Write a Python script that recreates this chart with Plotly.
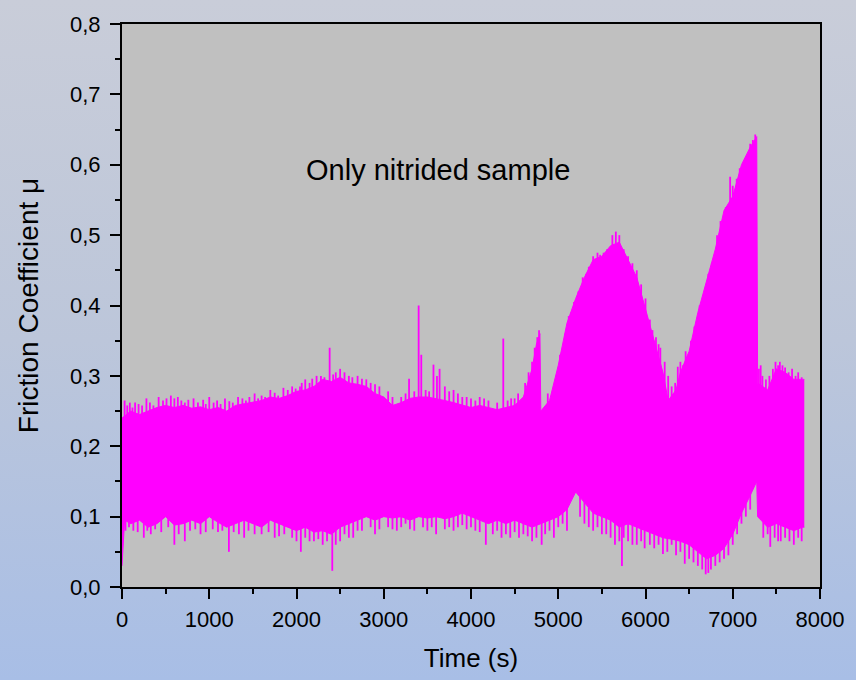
import plotly.graph_objects as go

# ---- data (envelope of the dense friction signal) ----
t_upper = [0, 100, 200, 300, 400, 500, 600, 700, 800, 900, 1000, 1100, 1200, 1300, 1400,
           1500, 1600, 1700, 1800, 1900, 2000, 2100, 2200, 2300, 2400, 2500, 2600, 2700,
           2800, 2900, 3000, 3100, 3200, 3300, 3400, 3500, 3600, 3700, 3800, 3900, 4000,
           4100, 4200, 4300, 4400, 4500, 4600, 4700, 4750, 4790, 4800, 4900, 5000, 5100,
           5200, 5300, 5400, 5500, 5600, 5700, 5800, 5900, 6000, 6100, 6200, 6260, 6350,
           6400, 6500, 6600, 6700, 6800, 6900, 7000, 7100, 7200, 7275, 7285, 7400, 7500,
           7600, 7700, 7800, 7820]
mu_upper = [0.24, 0.25, 0.245, 0.25, 0.255, 0.258, 0.255, 0.258, 0.254, 0.256, 0.252, 0.255,
            0.25, 0.258, 0.26, 0.262, 0.265, 0.27, 0.268, 0.272, 0.278, 0.28, 0.285, 0.295,
            0.292, 0.298, 0.29, 0.288, 0.285, 0.275, 0.27, 0.258, 0.262, 0.268, 0.27, 0.27,
            0.268, 0.265, 0.262, 0.258, 0.255, 0.258, 0.255, 0.252, 0.255, 0.258, 0.27, 0.31,
            0.345, 0.36, 0.25, 0.265, 0.315, 0.375, 0.41, 0.44, 0.465, 0.47, 0.485, 0.49,
            0.465, 0.44, 0.395, 0.35, 0.305, 0.265, 0.28, 0.305, 0.335, 0.39, 0.435, 0.48,
            0.535, 0.555, 0.6, 0.625, 0.64, 0.29, 0.28, 0.31, 0.305, 0.295, 0.295, 0.295]

t_lower = [0, 30, 100, 200, 300, 400, 500, 600, 700, 800, 900, 1000, 1100, 1200, 1300, 1400,
           1500, 1600, 1700, 1800, 1900, 2000, 2100, 2200, 2300, 2400, 2500, 2600, 2700,
           2800, 2900, 3000, 3100, 3200, 3300, 3400, 3500, 3600, 3700, 3800, 3900, 4000,
           4100, 4200, 4300, 4400, 4500, 4600, 4700, 4800, 4900, 5000, 5100, 5200, 5300,
           5400, 5500, 5600, 5700, 5800, 5900, 6000, 6100, 6200, 6300, 6400, 6500, 6600,
           6700, 6800, 6900, 7000, 7100, 7200, 7275, 7285, 7400, 7500, 7600, 7700, 7800, 7820]
mu_lower = [0.03, 0.095, 0.09, 0.095, 0.085, 0.09, 0.1, 0.088, 0.09, 0.095, 0.09, 0.1, 0.092,
            0.085, 0.09, 0.095, 0.09, 0.085, 0.095, 0.09, 0.085, 0.08, 0.085, 0.078, 0.08,
            0.075, 0.085, 0.09, 0.095, 0.1, 0.095, 0.1, 0.098, 0.1, 0.095, 0.1, 0.098, 0.1,
            0.097, 0.1, 0.105, 0.1, 0.095, 0.09, 0.095, 0.09, 0.095, 0.09, 0.085, 0.09, 0.095,
            0.1, 0.11, 0.135, 0.12, 0.105, 0.1, 0.095, 0.085, 0.09, 0.085, 0.08, 0.075, 0.07,
            0.068, 0.065, 0.06, 0.05, 0.04, 0.045, 0.055, 0.075, 0.105, 0.13, 0.15, 0.1,
            0.085, 0.09, 0.085, 0.08, 0.085, 0.085]

# isolated spikes poking above / below the envelope
spike_up_t = [30, 60, 90, 120, 150, 190, 230, 280, 320, 360, 420, 470, 510, 560, 600, 640,
              680, 720, 760, 820, 870, 930, 960, 1000, 1050, 1090, 1130, 1180, 1230, 1270,
              1330, 1380, 1420, 1460, 1520, 1560, 1600, 1640, 1700, 1750, 1790, 1850, 1900,
              1950, 1990, 2040, 2060, 2100, 2150, 2180, 2230, 2280, 2320, 2380, 2420, 2450,
              2500, 2550, 2600, 2640, 2700, 2750, 2800, 2850, 2900, 2950, 3050, 3100, 3200,
              3250, 3290, 3350, 3400, 3430, 3480, 3520, 3570, 3610, 3640, 3700, 3750, 3800,
              3850, 3900, 3950, 4000, 4050, 4100, 4150, 4200, 4300, 4370, 4420, 4460, 4500,
              4540, 4620, 4660, 4700, 4730, 4760, 4780, 4880, 5020, 5050, 5080, 5120, 5150,
              5180, 5230, 5280, 5320, 5350, 5400, 5450, 5480, 5520, 5560, 5620, 5660, 5700,
              5750, 5800, 5850, 5900, 5950, 6000, 6050, 6080, 6120, 6150, 6170, 6220, 6260,
              6300, 6340, 6370, 6400, 6430, 6460, 6520, 6560, 6620, 6660, 6720, 6760, 6820,
              6860, 6920, 6970, 7000, 7045, 7080, 7150, 7200, 7230, 7258, 7300, 7320, 7340,
              7380, 7420, 7460, 7490, 7520, 7540, 7570, 7600, 7640, 7680, 7720, 7750, 7790]
spike_up_mu = [0.265, 0.258, 0.262, 0.255, 0.262, 0.26, 0.258, 0.268, 0.262, 0.258, 0.27,
               0.265, 0.268, 0.272, 0.268, 0.27, 0.265, 0.262, 0.266, 0.268, 0.262, 0.266,
               0.26, 0.27, 0.262, 0.265, 0.26, 0.268, 0.264, 0.262, 0.27, 0.268, 0.265, 0.27,
               0.275, 0.268, 0.272, 0.27, 0.28, 0.276, 0.272, 0.283, 0.28, 0.285, 0.282,
               0.285, 0.29, 0.295, 0.29, 0.296, 0.3, 0.3, 0.298, 0.34, 0.302, 0.305, 0.31,
               0.305, 0.3, 0.298, 0.3, 0.296, 0.295, 0.29, 0.288, 0.285, 0.278, 0.27, 0.27,
               0.275, 0.296, 0.278, 0.40, 0.33, 0.28, 0.278, 0.316, 0.3, 0.31, 0.285, 0.278,
               0.28, 0.275, 0.27, 0.27, 0.268, 0.265, 0.27, 0.268, 0.265, 0.262, 0.353, 0.265,
               0.268, 0.268, 0.275, 0.29, 0.305, 0.32, 0.34, 0.355, 0.365, 0.275, 0.33, 0.33,
               0.36, 0.385, 0.39, 0.405, 0.42, 0.44, 0.445, 0.455, 0.47, 0.475, 0.472, 0.475,
               0.48, 0.5, 0.505, 0.5, 0.48, 0.47, 0.46, 0.45, 0.43, 0.41, 0.38, 0.365, 0.355,
               0.345, 0.34, 0.32, 0.3, 0.285, 0.29, 0.313, 0.32, 0.315, 0.335, 0.35, 0.37,
               0.4, 0.415, 0.445, 0.46, 0.5, 0.52, 0.54, 0.583, 0.57, 0.58, 0.595, 0.61, 0.63,
               0.635, 0.643, 0.31, 0.315, 0.3, 0.295, 0.3, 0.31, 0.32, 0.315, 0.32, 0.315,
               0.312, 0.305, 0.31, 0.3, 0.305, 0.298]
spike_lo_t = [40, 80, 130, 180, 250, 290, 330, 380, 450, 530, 600, 650, 720, 780, 840, 900,
              960, 1040, 1100, 1150, 1225, 1280, 1340, 1400, 1450, 1520, 1600, 1680, 1750,
              1800, 1860, 1950, 2000, 2050, 2100, 2150, 2200, 2250, 2300, 2350, 2410, 2450,
              2500, 2550, 2600, 2650, 2700, 2750, 2850, 2900, 2950, 3050, 3100, 3150, 3200,
              3250, 3300, 3350, 3450, 3500, 3550, 3600, 3700, 3750, 3800, 3850, 3900, 3950,
              4000, 4050, 4100, 4170, 4250, 4300, 4350, 4400, 4450, 4500, 4550, 4600, 4650,
              4700, 4750, 4810, 4850, 4900, 4950, 5000, 5050, 5100, 5250, 5300, 5350, 5400,
              5450, 5500, 5550, 5600, 5650, 5700, 5730, 5750, 5800, 5850, 5900, 5950, 5990,
              6050, 6100, 6150, 6200, 6250, 6300, 6350, 6400, 6450, 6500, 6550, 6600, 6650,
              6690, 6720, 6750, 6800, 6850, 6900, 6950, 7000, 7050, 7100, 7150, 7200, 7350,
              7400, 7430, 7480, 7520, 7550, 7600, 7650, 7700, 7750, 7790]
spike_lo_mu = [0.08, 0.085, 0.08, 0.078, 0.07, 0.08, 0.075, 0.082, 0.078, 0.085, 0.06, 0.075,
               0.065, 0.08, 0.082, 0.075, 0.078, 0.082, 0.078, 0.08, 0.05, 0.078, 0.075, 0.07,
               0.08, 0.075, 0.075, 0.078, 0.07, 0.072, 0.075, 0.07, 0.065, 0.05, 0.07, 0.065,
               0.065, 0.068, 0.06, 0.065, 0.023, 0.06, 0.065, 0.075, 0.07, 0.07, 0.08, 0.08,
               0.085, 0.075, 0.082, 0.085, 0.082, 0.08, 0.085, 0.09, 0.082, 0.08, 0.085, 0.08,
               0.085, 0.075, 0.082, 0.085, 0.08, 0.085, 0.088, 0.082, 0.085, 0.08, 0.078,
               0.06, 0.075, 0.08, 0.07, 0.075, 0.07, 0.078, 0.07, 0.075, 0.072, 0.065, 0.07,
               0.06, 0.075, 0.08, 0.07, 0.085, 0.09, 0.08, 0.1, 0.09, 0.085, 0.08, 0.085,
               0.075, 0.075, 0.07, 0.06, 0.065, 0.03, 0.07, 0.065, 0.06, 0.06, 0.065, 0.055,
               0.06, 0.055, 0.06, 0.047, 0.05, 0.06, 0.045, 0.05, 0.033, 0.04, 0.035, 0.03,
               0.025, 0.018, 0.02, 0.025, 0.03, 0.035, 0.04, 0.045, 0.06, 0.075, 0.09, 0.1,
               0.11, 0.07, 0.075, 0.057, 0.07, 0.065, 0.065, 0.07, 0.065, 0.06, 0.07, 0.065]

x_ticks = [0, 1000, 2000, 3000, 4000, 5000, 6000, 7000, 8000]
y_ticks = [0.0, 0.1, 0.2, 0.3, 0.4, 0.5, 0.6, 0.7, 0.8]

MAG = "#ff00ff"
FONT = "Liberation Sans, Arial, sans-serif"

fig = go.Figure()
fig.add_trace(go.Scatter(x=t_lower, y=mu_lower, mode="lines", line=dict(color=MAG, width=1),
                         hoverinfo="skip", showlegend=False))
fig.add_trace(go.Scatter(x=t_upper, y=mu_upper, mode="lines", line=dict(color=MAG, width=1),
                         fill="tonexty", fillcolor=MAG, hoverinfo="skip", showlegend=False))

def segs(ts, vs, base):
    xs, ys = [], []
    for t, v in zip(ts, vs):
        xs += [t, t, None]
        ys += [base, v, None]
    return xs, ys

sx, sy = segs(spike_up_t, spike_up_mu, 0.2)
fig.add_trace(go.Scatter(x=sx, y=sy, mode="lines", line=dict(color=MAG, width=1.8),
                         hoverinfo="skip", showlegend=False))
sx, sy = segs(spike_lo_t, spike_lo_mu, 0.2)
fig.add_trace(go.Scatter(x=sx, y=sy, mode="lines", line=dict(color=MAG, width=1.8),
                         hoverinfo="skip", showlegend=False))

fig.add_annotation(x=3620, y=0.592, text="Only nitrided sample", showarrow=False,
                   font=dict(family=FONT, size=29, color="black"))

axis_common = dict(showline=True, linecolor="black", linewidth=2, mirror=True,
                   ticks="outside", ticklen=10, tickwidth=2, tickcolor="black",
                   showgrid=False, zeroline=False,
                   tickfont=dict(family=FONT, size=22, color="black"))

fig.update_xaxes(range=[0, 8000], tickvals=x_ticks, ticktext=[str(v) for v in x_ticks],
                 ticklabelstandoff=2,
                 minor=dict(ticks="outside", ticklen=5, tickwidth=2, tickcolor="black", dtick=500, tick0=0),
                 title=dict(text="Time (s)", font=dict(family=FONT, size=26, color="black"), standoff=17),
                 **axis_common)
fig.update_yaxes(range=[0, 0.8], tickvals=y_ticks, ticktext=[f"{v:.1f}".replace(".", ",") for v in y_ticks],
                 ticklabelstandoff=5,
                 minor=dict(ticks="outside", ticklen=5, tickwidth=2, tickcolor="black", dtick=0.05, tick0=0),
                 title=dict(text="Friction Coefficient μ", font=dict(family=FONT, size=28, color="black"), standoff=23),
                 **axis_common)

fig.update_layout(width=856, height=680,
                  margin=dict(l=122, r=31, t=23, b=90),
                  paper_bgcolor="rgba(0,0,0,0)", plot_bgcolor="#c0c0c0",
                  font=dict(family=FONT))

post = ("document.body.style.margin='0';"
        "var d=document.getElementById('{plot_id}');"
        "d.style.background='linear-gradient(to bottom,#c9cdd9 0%,#bcc6da 50%,#a8bee6 100%)';")
fig.write_html("out.html", post_script=post, config={"displayModeBar": False})
